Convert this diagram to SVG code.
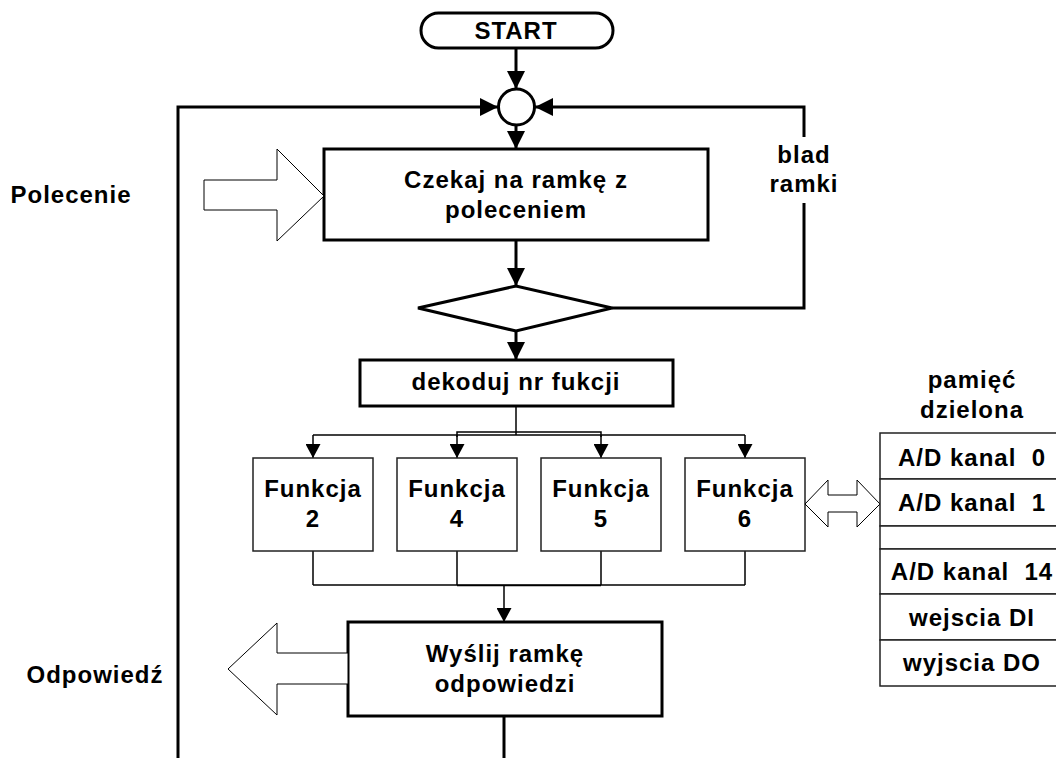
<svg xmlns="http://www.w3.org/2000/svg" width="1056" height="758" viewBox="0 0 1056 758">
  <defs>
    <style>
      .t { font-family: "Liberation Sans", Arial, sans-serif; font-weight: bold; font-size: 24px; letter-spacing: 1px; text-anchor: middle; fill: #000; white-space: pre; }
      .box { fill: #fff; stroke: #000; stroke-width: 3; }
      .fbox { fill: #fff; stroke: #222; stroke-width: 1.5; }
      .cell { fill: #fff; stroke: #222; stroke-width: 1.5; }
      .block { fill: #fff; stroke: #000; stroke-width: 1; stroke-linejoin: miter; }
      .flow { fill: none; stroke: #000; stroke-width: 3; }
      .thin { fill: none; stroke: #000; stroke-width: 1.5; }
    </style>
    <marker id="ah" viewBox="0 0 18 18" refX="18" refY="9" markerWidth="18" markerHeight="18" markerUnits="userSpaceOnUse" orient="auto">
      <path d="M0,0 L18,9 L0,18 z" fill="#000"/>
    </marker>
    <marker id="ahs" viewBox="0 0 14 15" refX="14" refY="7.5" markerWidth="14" markerHeight="15" markerUnits="userSpaceOnUse" orient="auto">
      <path d="M0,0 L14,7.5 L0,15 z" fill="#000"/>
    </marker>
  </defs>

  <!-- connectors -->
  <g id="connectors">
    <path class="flow" d="M516,48 V89" marker-end="url(#ah)"/>
    <path class="flow" d="M516,125 V149" marker-end="url(#ah)"/>
    <path class="flow" d="M516,240 V286" marker-end="url(#ah)"/>
    <path class="flow" d="M516,331 V360" marker-end="url(#ah)"/>
    <!-- return loop on the left -->
    <path class="flow" d="M178,758 V107 H498" marker-end="url(#ah)"/>
    <!-- frame error loop on the right -->
    <path class="flow" d="M612,308 H804 V203"/>
    <path class="flow" d="M804,137 V107 H535" marker-end="url(#ah)"/>
    <!-- fan-out to functions -->
    <path class="thin" d="M516,406 V435"/>
    <path class="thin" d="M313,435 H745"/>
    <path class="thin" d="M457,437 V432 H601 V437"/>
    <path class="thin" d="M313,435 V458" marker-end="url(#ahs)"/>
    <path class="thin" d="M457,435 V458" marker-end="url(#ahs)"/>
    <path class="thin" d="M601,435 V458" marker-end="url(#ahs)"/>
    <path class="thin" d="M745,435 V458" marker-end="url(#ahs)"/>
    <!-- fan-in from functions -->
    <path class="thin" d="M313,551 V585 M457,551 V585 M601,551 V585 M745,551 V585"/>
    <path class="thin" d="M313,585 H745"/>
    <path class="thin" d="M457,585.5 H601" stroke-width="2.5"/>
    <path class="thin" d="M504,585 V622" marker-end="url(#ahs)"/>
    <path class="flow" d="M504,716 V758"/>
  </g>

  <g id="start">
    <rect class="box" x="421" y="13" width="192" height="35" rx="17.5" ry="17.5" stroke-width="2.5"/>
    <text class="t" x="516" y="39">START</text>
  </g>

  <g id="junction">
    <circle cx="516.5" cy="107" r="18" fill="#fff" stroke="#000" stroke-width="3"/>
  </g>

  <g id="wait">
    <rect class="box" x="324" y="149" width="384" height="91"/>
    <text class="t" x="516" y="188">Czekaj na ramkę z</text>
    <text class="t" x="516" y="218">poleceniem</text>
  </g>

  <g id="check">
    <polygon class="box" points="418,308 516,286 612,308 516,331"/>
  </g>

  <g id="error-label">
    <text class="t" x="804" y="163">blad</text>
    <text class="t" x="804" y="192">ramki</text>
  </g>

  <g id="decode">
    <rect class="box" x="360" y="360" width="313" height="46"/>
    <text class="t" x="516" y="390">dekoduj nr fukcji</text>
  </g>

  <g id="f2">
    <rect class="fbox" x="253" y="458" width="120" height="93"/>
    <text class="t" x="313" y="497">Funkcja</text>
    <text class="t" x="313" y="527">2</text>
  </g>
  <g id="f4">
    <rect class="fbox" x="397" y="458" width="120" height="93"/>
    <text class="t" x="457" y="497">Funkcja</text>
    <text class="t" x="457" y="527">4</text>
  </g>
  <g id="f5">
    <rect class="fbox" x="541" y="458" width="120" height="93"/>
    <text class="t" x="601" y="497">Funkcja</text>
    <text class="t" x="601" y="527">5</text>
  </g>
  <g id="f6">
    <rect class="fbox" x="685" y="458" width="120" height="93"/>
    <text class="t" x="745" y="497">Funkcja</text>
    <text class="t" x="745" y="527">6</text>
  </g>

  <g id="send">
    <rect class="box" x="348" y="622" width="314" height="94"/>
    <text class="t" x="505" y="662">Wyślij ramkę</text>
    <text class="t" x="505" y="692">odpowiedzi</text>
  </g>

  <g id="command-in">
    <polygon class="block" points="204,180 277,180 277,149 324,196 277,241 277,210 204,210"/>
    <text class="t" x="71" y="203">Polecenie</text>
  </g>

  <g id="response-out">
    <polygon class="block" points="348,653 277,653 277,623 228,669 277,715 277,684 348,684"/>
    <text class="t" x="95" y="683">Odpowiedź</text>
  </g>

  <g id="shared-link">
    <polygon class="block" points="805,504 828,480 828,495 857,495 857,480 880,504 857,527 857,512 828,512 828,527"/>
  </g>

  <g id="shared-memory">
    <text class="t" x="972" y="388">pamięć</text>
    <text class="t" x="972" y="418">dzielona</text>
    <rect class="cell" x="880" y="433" width="184" height="46"/>
    <rect class="cell" x="880" y="479" width="184" height="47"/>
    <rect class="cell" x="880" y="526" width="184" height="23"/>
    <rect class="cell" x="880" y="549" width="184" height="45"/>
    <rect class="cell" x="880" y="594" width="184" height="46"/>
    <rect class="cell" x="880" y="640" width="184" height="46"/>
    <text class="t" x="972" y="466" xml:space="preserve">A/D kanal  0</text>
    <text class="t" x="972" y="511" xml:space="preserve">A/D kanal  1</text>
    <text class="t" x="972" y="580" xml:space="preserve">A/D kanal  14</text>
    <text class="t" x="972" y="626">wejscia DI</text>
    <text class="t" x="972" y="671">wyjscia DO</text>
  </g>
</svg>
